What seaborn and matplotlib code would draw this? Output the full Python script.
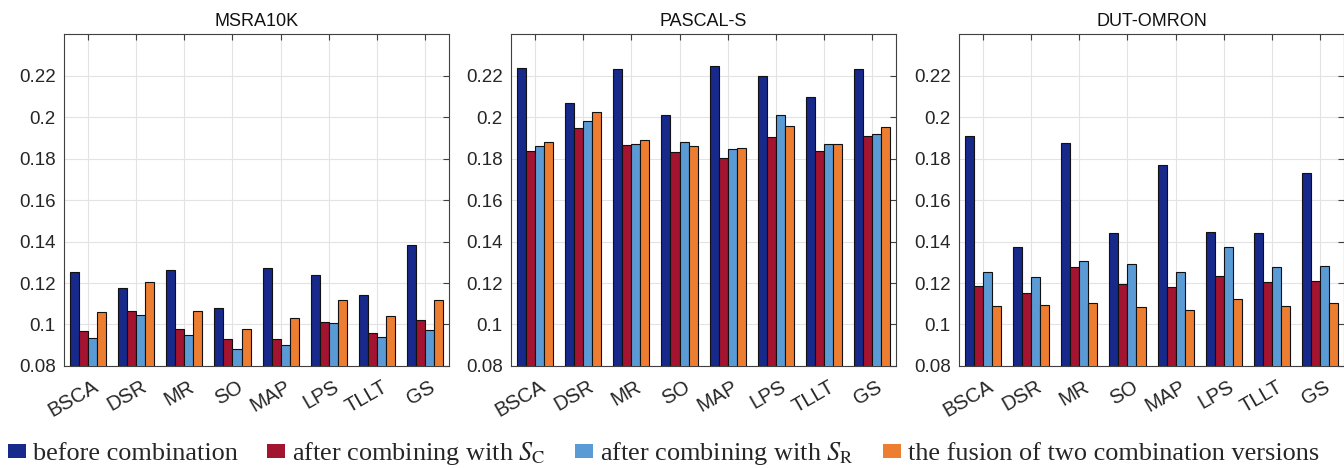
import seaborn as sns
import matplotlib.pyplot as plt
import pandas as pd
from matplotlib.patches import Patch
from matplotlib.transforms import ScaledTranslation

methods = ["BSCA", "DSR", "MR", "SO", "MAP", "LPS", "TLLT", "GS"]
variants = ["before combination",
            r"after combining with $S_\mathrm{C}$",
            r"after combining with $S_\mathrm{R}$",
            "the fusion of two combination versions"]
datasets = ["MSRA10K", "PASCAL-S", "DUT-OMRON"]

# MSRA10K
msra_before = [0.1251, 0.1178, 0.1263, 0.1078, 0.1271, 0.1238, 0.1140, 0.1382]
msra_sc = [0.0967, 0.1067, 0.0977, 0.0929, 0.0932, 0.1014, 0.0958, 0.1022]
msra_sr = [0.0934, 0.1048, 0.0948, 0.0882, 0.0903, 0.1009, 0.0942, 0.0975]
msra_fusion = [0.1059, 0.1207, 0.1067, 0.0980, 0.1030, 0.1120, 0.1043, 0.1120]

# PASCAL-S
pascal_before = [0.2237, 0.2070, 0.2232, 0.2012, 0.2245, 0.2197, 0.2098, 0.2234]
pascal_sc = [0.1836, 0.1947, 0.1867, 0.1833, 0.1801, 0.1904, 0.1838, 0.1909]
pascal_sr = [0.1859, 0.1983, 0.1872, 0.1878, 0.1844, 0.2008, 0.1872, 0.1921]
pascal_fusion = [0.1880, 0.2023, 0.1888, 0.1860, 0.1852, 0.1959, 0.1872, 0.1950]

# DUT-OMRON
dut_before = [0.1907, 0.1376, 0.1876, 0.1439, 0.1767, 0.1445, 0.1439, 0.1730]
dut_sc = [0.1188, 0.1151, 0.1275, 0.1194, 0.1180, 0.1233, 0.1204, 0.1212]
dut_sr = [0.1252, 0.1230, 0.1307, 0.1292, 0.1255, 0.1374, 0.1276, 0.1284]
dut_fusion = [0.1090, 0.1094, 0.1106, 0.1082, 0.1070, 0.1125, 0.1090, 0.1102]

yticks = [0.08, 0.1, 0.12, 0.14, 0.16, 0.18, 0.2, 0.22]
ytick_labels = ["0.08", "0.1", "0.12", "0.14", "0.16", "0.18", "0.2", "0.22"]

colors = ["#17298A", "#A2142F", "#5B9BD5", "#ED7D31"]


def build_frame(series):
    rows = []
    for variant, values in zip(variants, series):
        for method, v in zip(methods, values):
            rows.append({"Method": method, "Variant": variant, "Value": v})
    return pd.DataFrame(rows)


def main():
    sns.set_theme(style="white")
    plt.rcParams["font.family"] = ["Liberation Sans", "DejaVu Sans"]
    plt.rcParams["mathtext.fontset"] = "stix"

    panels = [
        [msra_before, msra_sc, msra_sr, msra_fusion],
        [pascal_before, pascal_sc, pascal_sr, pascal_fusion],
        [dut_before, dut_sc, dut_sr, dut_fusion],
    ]
    lefts = [0.0476, 0.3802, 0.7135]

    fig = plt.figure(figsize=(13.44, 4.68), dpi=100)
    shift = ScaledTranslation(4 / 100, 0, fig.dpi_scale_trans)
    for name, series, left in zip(datasets, panels, lefts):
        ax = fig.add_axes([left, 0.218, 0.2866, 0.709])
        df = build_frame(series)
        sns.barplot(data=df, x="Method", y="Value", hue="Variant",
                    palette=colors, saturation=1, width=0.75,
                    edgecolor="#111111", linewidth=0.8, legend=False,
                    ax=ax, zorder=3)
        ax.set_xlim(-0.5, 7.5)
        ax.set_ylim(0.08, 0.24)
        ax.set_yticks(yticks)
        ax.set_yticklabels(ytick_labels)
        ax.set_xlabel("")
        ax.set_ylabel("")
        ax.set_axisbelow(True)
        ax.grid(True, color="#e3e3e3", linewidth=0.8)
        ax.tick_params(axis="both", direction="in", length=4,
                       width=0.8, color="#404040", labelcolor="#262626",
                       labelsize=13.5, top=True, right=True)
        ax.tick_params(axis="y", pad=6)
        ax.tick_params(axis="x", pad=8, labelsize=14.5)
        for lab in ax.get_xticklabels():
            lab.set_rotation(30)
            lab.set_ha("right")
            lab.set_va("top")
            lab.set_rotation_mode("anchor")
            lab.set_transform(lab.get_transform() + shift)
        for sp in ax.spines.values():
            sp.set_color("#404040")
            sp.set_linewidth(0.8)
        ax.set_title(name, fontsize=13, color="#111111", pad=6)

    handles = [Patch(facecolor=c, edgecolor="none") for c in colors]
    fig.legend(handles, variants, loc="center left",
               bbox_to_anchor=(0.006, 0.03), ncol=4, frameon=False,
               prop={"family": ["Liberation Serif", "DejaVu Serif"],
                     "size": 18.9},
               handlelength=0.68, handleheight=0.43, handletextpad=0.27,
               columnspacing=1.12, borderaxespad=0, borderpad=0)

    fig.savefig("out.png", dpi=100)


if __name__ == "__main__":
    main()
